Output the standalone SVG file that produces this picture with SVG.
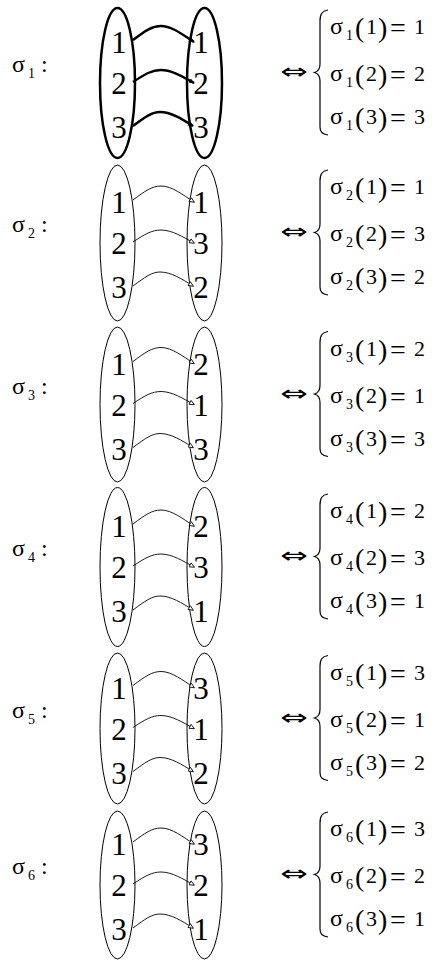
<svg xmlns="http://www.w3.org/2000/svg" width="438" height="960" viewBox="0 0 438 960">
<defs>
<style>
text{font-family:'Liberation Serif','DejaVu Serif',serif;fill:#000}
.big{font-size:31px}
.sg{font-size:24px}
.sb{font-size:14px}
.pr{font-size:28px}
.nm{font-size:22px}
.eq{font-size:28px}
.iff{font-family:'DejaVu Sans',sans-serif;font-size:22px}
.el{fill:none;stroke:#000;stroke-width:1}
.thick .el{stroke-width:2.5}
.ar{fill:none;stroke:#000;stroke-width:0.9}
.thick .ar{stroke-width:2.4}
.br{fill:none;stroke:#000;stroke-width:1.2}
</style>
<marker id="hthin" viewBox="0 0 6 6" refX="5" refY="3" markerWidth="6" markerHeight="6" markerUnits="userSpaceOnUse" orient="auto">
<path d="M0.5,0.8 L5.5,3 L0.5,5.2 Z" fill="#fff" stroke="#000" stroke-width="0.8"/>
</marker>
<marker id="hthick" viewBox="0 0 6 6" refX="5" refY="3" markerWidth="6" markerHeight="6" markerUnits="userSpaceOnUse" orient="auto">
<path d="M0,0.5 L6,3 L0,5.5 Z" fill="#000"/>
</marker>
<path id="brace" class="br" d="M328,-73 C322,-72 320,-69 320,-62 L320,-19 C320,-14 318,-11.5 314.5,-10.5 C318,-9.5 320,-7 320,-2 L320,44 C320,49 322,51 328,52"/>
</defs>

<!-- block 1 -->
<g id="sigma1" class="thick" transform="translate(0,83)">
<g id="s1-label" font-family="Liberation Serif"><text class="sg" x="12" y="-11">σ</text><text class="sb" x="28" y="-5">1</text><text class="sg" x="41" y="-11">:</text></g>
<g id="s1-domain"><ellipse class="el" cx="117.5" cy="0" rx="17.5" ry="75"/>
<text class="big" x="119" y="-30" text-anchor="middle">1</text><text class="big" x="119" y="11" text-anchor="middle">2</text><text class="big" x="119" y="55" text-anchor="middle">3</text></g>
<g id="s1-codomain"><ellipse class="el" cx="204.5" cy="0" rx="17.5" ry="75"/>
<text class="big" x="201" y="-30" text-anchor="middle">1</text><text class="big" x="201" y="11" text-anchor="middle">2</text><text class="big" x="201" y="55" text-anchor="middle">3</text></g>
<g id="s1-arrows">
<path class="ar" marker-end="url(#hthick)" d="M133,-43 C145,-52 152,-57 161,-57 C172,-57 183,-48 194,-41"/>
<path class="ar" marker-end="url(#hthick)" d="M133,-1 C145,-9 152,-13 161,-13 C172,-13 183,-6 194,0"/>
<path class="ar" marker-end="url(#hthick)" d="M133,43 C145,34 152,29 160,29 C171,29 182,36 193,43"/>
</g>
<g id="s1-eq">
<text class="iff" transform="translate(294,-4) scale(1.5,1)" text-anchor="middle">⇔</text>
<use href="#brace"/>
<text class="sg" x="330" y="-49">σ</text><text class="sb" x="346" y="-43">1</text><text class="pr" x="355" y="-46">(</text><text class="nm" x="366" y="-49">1</text><text class="pr" x="378" y="-46">)</text><text class="eq" x="390" y="-46">=</text><text class="nm" x="414" y="-49">1</text>
<text class="sg" x="330" y="-2">σ</text><text class="sb" x="346" y="4">1</text><text class="pr" x="355" y="1">(</text><text class="nm" x="366" y="-2">2</text><text class="pr" x="378" y="1">)</text><text class="eq" x="390" y="1">=</text><text class="nm" x="414" y="-2">2</text>
<text class="sg" x="330" y="41">σ</text><text class="sb" x="346" y="47">1</text><text class="pr" x="355" y="44">(</text><text class="nm" x="366" y="41">3</text><text class="pr" x="378" y="44">)</text><text class="eq" x="390" y="44">=</text><text class="nm" x="414" y="41">3</text>
</g>
</g>

<!-- block 2 -->
<g id="sigma2" transform="translate(0,243)">
<g id="s2-label"><text class="sg" x="12" y="-11">σ</text><text class="sb" x="28" y="-5">2</text><text class="sg" x="41" y="-11">:</text></g>
<g id="s2-domain"><ellipse class="el" cx="117.5" cy="0" rx="17.5" ry="78"/>
<text class="big" x="119" y="-30" text-anchor="middle">1</text><text class="big" x="119" y="11" text-anchor="middle">2</text><text class="big" x="119" y="55" text-anchor="middle">3</text></g>
<g id="s2-codomain"><ellipse class="el" cx="204.5" cy="0" rx="17.5" ry="78"/>
<text class="big" x="201" y="-30" text-anchor="middle">1</text><text class="big" x="201" y="11" text-anchor="middle">3</text><text class="big" x="201" y="55" text-anchor="middle">2</text></g>
<g id="s2-arrows">
<path class="ar" marker-end="url(#hthin)" d="M133,-43 C145,-52 152,-57 161,-57 C172,-57 183,-48 194,-41"/>
<path class="ar" marker-end="url(#hthin)" d="M133,-1 C145,-9 152,-13 161,-13 C172,-13 183,-6 194,0"/>
<path class="ar" marker-end="url(#hthin)" d="M133,43 C145,34 152,29 160,29 C171,29 182,36 193,43"/>
</g>
<g id="s2-eq">
<text class="iff" transform="translate(294,-4) scale(1.5,1)" text-anchor="middle">⇔</text>
<use href="#brace"/>
<text class="sg" x="330" y="-49">σ</text><text class="sb" x="346" y="-43">2</text><text class="pr" x="355" y="-46">(</text><text class="nm" x="366" y="-49">1</text><text class="pr" x="378" y="-46">)</text><text class="eq" x="390" y="-46">=</text><text class="nm" x="414" y="-49">1</text>
<text class="sg" x="330" y="-2">σ</text><text class="sb" x="346" y="4">2</text><text class="pr" x="355" y="1">(</text><text class="nm" x="366" y="-2">2</text><text class="pr" x="378" y="1">)</text><text class="eq" x="390" y="1">=</text><text class="nm" x="414" y="-2">3</text>
<text class="sg" x="330" y="41">σ</text><text class="sb" x="346" y="47">2</text><text class="pr" x="355" y="44">(</text><text class="nm" x="366" y="41">3</text><text class="pr" x="378" y="44">)</text><text class="eq" x="390" y="44">=</text><text class="nm" x="414" y="41">2</text>
</g>
</g>

<!-- block 3 -->
<g id="sigma3" transform="translate(0,404.5)">
<g id="s3-label"><text class="sg" x="12" y="-11">σ</text><text class="sb" x="28" y="-5">3</text><text class="sg" x="41" y="-11">:</text></g>
<g id="s3-domain"><ellipse class="el" cx="117.5" cy="0" rx="17.5" ry="77.5"/>
<text class="big" x="119" y="-30" text-anchor="middle">1</text><text class="big" x="119" y="11" text-anchor="middle">2</text><text class="big" x="119" y="55" text-anchor="middle">3</text></g>
<g id="s3-codomain"><ellipse class="el" cx="204.5" cy="0" rx="17.5" ry="77.5"/>
<text class="big" x="201" y="-30" text-anchor="middle">2</text><text class="big" x="201" y="11" text-anchor="middle">1</text><text class="big" x="201" y="55" text-anchor="middle">3</text></g>
<g id="s3-arrows">
<path class="ar" marker-end="url(#hthin)" d="M133,-43 C145,-52 152,-57 161,-57 C172,-57 183,-48 194,-41"/>
<path class="ar" marker-end="url(#hthin)" d="M133,-1 C145,-9 152,-13 161,-13 C172,-13 183,-6 194,0"/>
<path class="ar" marker-end="url(#hthin)" d="M133,43 C145,34 152,29 160,29 C171,29 182,36 193,43"/>
</g>
<g id="s3-eq">
<text class="iff" transform="translate(294,-4) scale(1.5,1)" text-anchor="middle">⇔</text>
<use href="#brace"/>
<text class="sg" x="330" y="-49">σ</text><text class="sb" x="346" y="-43">3</text><text class="pr" x="355" y="-46">(</text><text class="nm" x="366" y="-49">1</text><text class="pr" x="378" y="-46">)</text><text class="eq" x="390" y="-46">=</text><text class="nm" x="414" y="-49">2</text>
<text class="sg" x="330" y="-2">σ</text><text class="sb" x="346" y="4">3</text><text class="pr" x="355" y="1">(</text><text class="nm" x="366" y="-2">2</text><text class="pr" x="378" y="1">)</text><text class="eq" x="390" y="1">=</text><text class="nm" x="414" y="-2">1</text>
<text class="sg" x="330" y="41">σ</text><text class="sb" x="346" y="47">3</text><text class="pr" x="355" y="44">(</text><text class="nm" x="366" y="41">3</text><text class="pr" x="378" y="44">)</text><text class="eq" x="390" y="44">=</text><text class="nm" x="414" y="41">3</text>
</g>
</g>

<!-- block 4 -->
<g id="sigma4" transform="translate(0,567)">
<g id="s4-label"><text class="sg" x="12" y="-11">σ</text><text class="sb" x="28" y="-5">4</text><text class="sg" x="41" y="-11">:</text></g>
<g id="s4-domain"><ellipse class="el" cx="117.5" cy="0" rx="17.5" ry="79.5"/>
<text class="big" x="119" y="-30" text-anchor="middle">1</text><text class="big" x="119" y="11" text-anchor="middle">2</text><text class="big" x="119" y="55" text-anchor="middle">3</text></g>
<g id="s4-codomain"><ellipse class="el" cx="204.5" cy="0" rx="17.5" ry="79.5"/>
<text class="big" x="201" y="-30" text-anchor="middle">2</text><text class="big" x="201" y="11" text-anchor="middle">3</text><text class="big" x="201" y="55" text-anchor="middle">1</text></g>
<g id="s4-arrows">
<path class="ar" marker-end="url(#hthin)" d="M133,-43 C145,-52 152,-57 161,-57 C172,-57 183,-48 194,-41"/>
<path class="ar" marker-end="url(#hthin)" d="M133,-1 C145,-9 152,-13 161,-13 C172,-13 183,-6 194,0"/>
<path class="ar" marker-end="url(#hthin)" d="M133,43 C145,34 152,29 160,29 C171,29 182,36 193,43"/>
</g>
<g id="s4-eq">
<text class="iff" transform="translate(294,-4) scale(1.5,1)" text-anchor="middle">⇔</text>
<use href="#brace"/>
<text class="sg" x="330" y="-49">σ</text><text class="sb" x="346" y="-43">4</text><text class="pr" x="355" y="-46">(</text><text class="nm" x="366" y="-49">1</text><text class="pr" x="378" y="-46">)</text><text class="eq" x="390" y="-46">=</text><text class="nm" x="414" y="-49">2</text>
<text class="sg" x="330" y="-2">σ</text><text class="sb" x="346" y="4">4</text><text class="pr" x="355" y="1">(</text><text class="nm" x="366" y="-2">2</text><text class="pr" x="378" y="1">)</text><text class="eq" x="390" y="1">=</text><text class="nm" x="414" y="-2">3</text>
<text class="sg" x="330" y="41">σ</text><text class="sb" x="346" y="47">4</text><text class="pr" x="355" y="44">(</text><text class="nm" x="366" y="41">3</text><text class="pr" x="378" y="44">)</text><text class="eq" x="390" y="44">=</text><text class="nm" x="414" y="41">1</text>
</g>
</g>

<!-- block 5 -->
<g id="sigma5" transform="translate(0,728.5)">
<g id="s5-label"><text class="sg" x="12" y="-11">σ</text><text class="sb" x="28" y="-5">5</text><text class="sg" x="41" y="-11">:</text></g>
<g id="s5-domain"><ellipse class="el" cx="117.5" cy="0" rx="17.5" ry="75.5"/>
<text class="big" x="119" y="-30" text-anchor="middle">1</text><text class="big" x="119" y="11" text-anchor="middle">2</text><text class="big" x="119" y="55" text-anchor="middle">3</text></g>
<g id="s5-codomain"><ellipse class="el" cx="204.5" cy="0" rx="17.5" ry="75.5"/>
<text class="big" x="201" y="-30" text-anchor="middle">3</text><text class="big" x="201" y="11" text-anchor="middle">1</text><text class="big" x="201" y="55" text-anchor="middle">2</text></g>
<g id="s5-arrows">
<path class="ar" marker-end="url(#hthin)" d="M133,-43 C145,-52 152,-57 161,-57 C172,-57 183,-48 194,-41"/>
<path class="ar" marker-end="url(#hthin)" d="M133,-1 C145,-9 152,-13 161,-13 C172,-13 183,-6 194,0"/>
<path class="ar" marker-end="url(#hthin)" d="M133,43 C145,34 152,29 160,29 C171,29 182,36 193,43"/>
</g>
<g id="s5-eq">
<text class="iff" transform="translate(294,-4) scale(1.5,1)" text-anchor="middle">⇔</text>
<use href="#brace"/>
<text class="sg" x="330" y="-49">σ</text><text class="sb" x="346" y="-43">5</text><text class="pr" x="355" y="-46">(</text><text class="nm" x="366" y="-49">1</text><text class="pr" x="378" y="-46">)</text><text class="eq" x="390" y="-46">=</text><text class="nm" x="414" y="-49">3</text>
<text class="sg" x="330" y="-2">σ</text><text class="sb" x="346" y="4">5</text><text class="pr" x="355" y="1">(</text><text class="nm" x="366" y="-2">2</text><text class="pr" x="378" y="1">)</text><text class="eq" x="390" y="1">=</text><text class="nm" x="414" y="-2">1</text>
<text class="sg" x="330" y="41">σ</text><text class="sb" x="346" y="47">5</text><text class="pr" x="355" y="44">(</text><text class="nm" x="366" y="41">3</text><text class="pr" x="378" y="44">)</text><text class="eq" x="390" y="44">=</text><text class="nm" x="414" y="41">2</text>
</g>
</g>

<!-- block 6 -->
<g id="sigma6" transform="translate(0,885)">
<g id="s6-label"><text class="sg" x="12" y="-11">σ</text><text class="sb" x="28" y="-5">6</text><text class="sg" x="41" y="-11">:</text></g>
<g id="s6-domain"><ellipse class="el" cx="117.5" cy="0" rx="17.5" ry="74"/>
<text class="big" x="119" y="-30" text-anchor="middle">1</text><text class="big" x="119" y="11" text-anchor="middle">2</text><text class="big" x="119" y="55" text-anchor="middle">3</text></g>
<g id="s6-codomain"><ellipse class="el" cx="204.5" cy="0" rx="17.5" ry="74"/>
<text class="big" x="201" y="-30" text-anchor="middle">3</text><text class="big" x="201" y="11" text-anchor="middle">2</text><text class="big" x="201" y="55" text-anchor="middle">1</text></g>
<g id="s6-arrows">
<path class="ar" marker-end="url(#hthin)" d="M133,-43 C145,-52 152,-57 161,-57 C172,-57 183,-48 194,-41"/>
<path class="ar" marker-end="url(#hthin)" d="M133,-1 C145,-9 152,-13 161,-13 C172,-13 183,-6 194,0"/>
<path class="ar" marker-end="url(#hthin)" d="M133,43 C145,34 152,29 160,29 C171,29 182,36 193,43"/>
</g>
<g id="s6-eq">
<text class="iff" transform="translate(294,-4) scale(1.5,1)" text-anchor="middle">⇔</text>
<use href="#brace"/>
<text class="sg" x="330" y="-49">σ</text><text class="sb" x="346" y="-43">6</text><text class="pr" x="355" y="-46">(</text><text class="nm" x="366" y="-49">1</text><text class="pr" x="378" y="-46">)</text><text class="eq" x="390" y="-46">=</text><text class="nm" x="414" y="-49">3</text>
<text class="sg" x="330" y="-2">σ</text><text class="sb" x="346" y="4">6</text><text class="pr" x="355" y="1">(</text><text class="nm" x="366" y="-2">2</text><text class="pr" x="378" y="1">)</text><text class="eq" x="390" y="1">=</text><text class="nm" x="414" y="-2">2</text>
<text class="sg" x="330" y="41">σ</text><text class="sb" x="346" y="47">6</text><text class="pr" x="355" y="44">(</text><text class="nm" x="366" y="41">3</text><text class="pr" x="378" y="44">)</text><text class="eq" x="390" y="44">=</text><text class="nm" x="414" y="41">1</text>
</g>
</g>
</svg>
